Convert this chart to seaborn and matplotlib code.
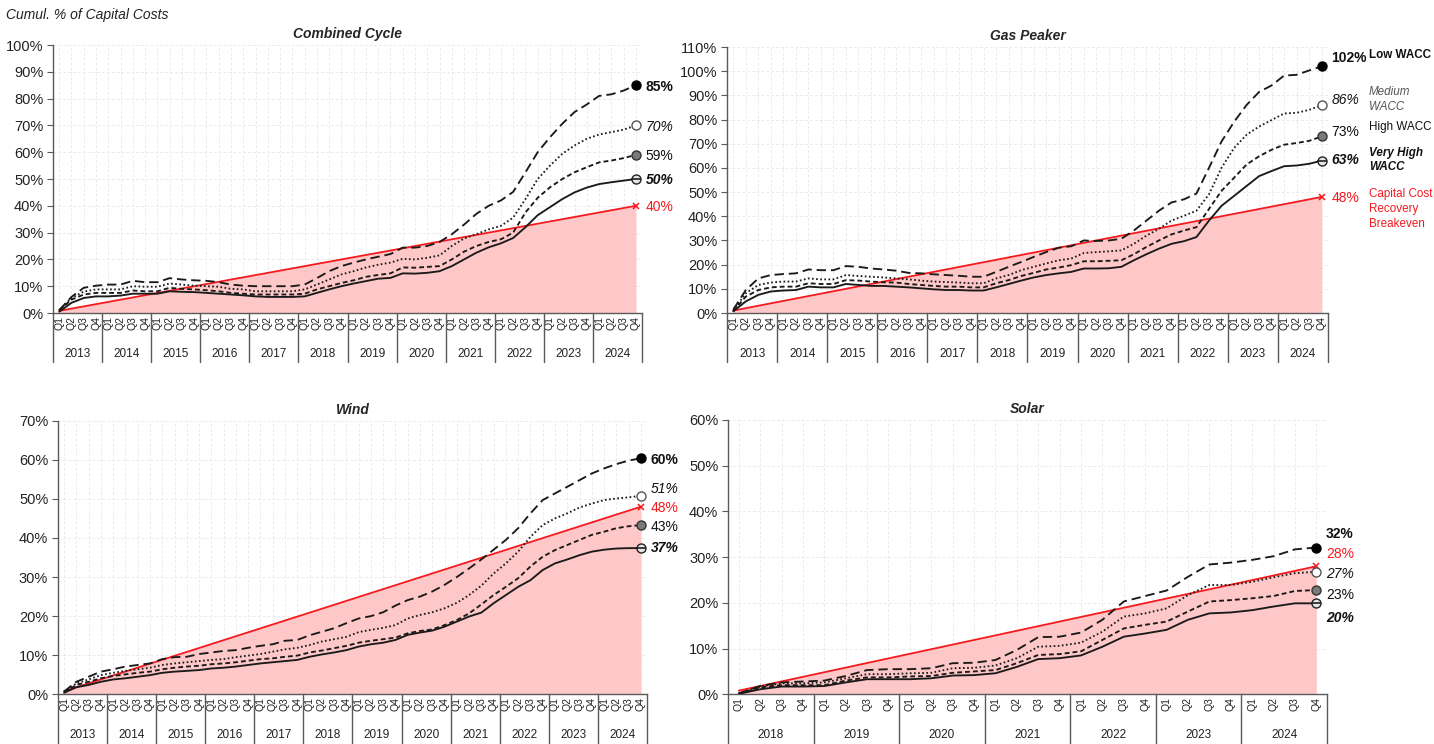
import numpy as np
import matplotlib
matplotlib.use('Agg')
import matplotlib.pyplot as plt
from matplotlib.lines import Line2D
import seaborn as sns

# --- DATA (cumulative % of capital costs recovered, by quarter) ---
YEARS_LONG = [2013, 2014, 2015, 2016, 2017, 2018, 2019, 2020, 2021, 2022, 2023, 2024]
YEARS_SOLAR = [2018, 2019, 2020, 2021, 2022, 2023, 2024]
QUARTERS = ["Q1", "Q2", "Q3", "Q4"]

CC_LOW = [1.0, 6.0, 9.4, 10.2, 10.6, 10.6, 12.0, 11.5, 11.5, 13.0, 12.5, 12.2,
          12.0, 11.5, 10.6, 10.2, 10.0, 10.0, 10.0, 10.0, 10.6, 13.0, 15.6, 17.5,
          18.8, 20.0, 21.0, 22.0, 24.4, 24.4, 25.0, 26.5, 29.4, 33.0, 37.0, 40.0,
          42.0, 45.2, 52.5, 60.0, 65.6, 70.6, 75.0, 77.8, 81.0, 81.6, 83.0, 85.0]
CC_MED = [1.0, 5.6, 8.0, 8.8, 8.8, 8.8, 10.0, 9.8, 9.8, 11.0, 10.6, 10.2,
          10.0, 9.8, 9.0, 8.8, 8.1, 8.1, 8.1, 8.1, 8.8, 10.6, 12.5, 14.4,
          15.6, 17.0, 18.0, 18.8, 20.2, 20.0, 20.6, 21.5, 25.0, 27.8, 29.4, 31.2,
          32.5, 35.6, 42.5, 50.0, 55.0, 59.4, 62.5, 65.0, 66.6, 67.5, 68.4, 70.0]
CC_HIGH = [1.0, 5.0, 6.9, 7.5, 7.5, 7.5, 8.4, 8.1, 8.1, 9.4, 9.0, 8.8,
           8.5, 8.1, 7.5, 7.2, 6.9, 6.9, 6.9, 6.9, 7.2, 8.8, 10.0, 11.2,
           12.2, 13.5, 14.2, 14.8, 17.0, 16.9, 17.2, 17.5, 20.0, 22.9, 25.0, 26.5,
           27.5, 30.0, 37.5, 43.0, 46.9, 50.0, 52.5, 54.4, 56.2, 56.9, 57.8, 59.0]
CC_VHIGH = [0.5, 3.8, 5.6, 6.2, 6.2, 6.5, 7.2, 7.2, 7.2, 8.1, 7.9, 7.8,
            7.5, 7.2, 6.9, 6.6, 6.2, 6.0, 6.0, 6.0, 6.2, 7.5, 8.8, 10.0,
            11.0, 11.9, 12.8, 13.1, 14.8, 14.7, 15.0, 15.6, 17.5, 20.0, 22.5, 24.5,
            26.0, 28.0, 32.0, 36.5, 39.5, 42.5, 45.0, 46.8, 48.1, 48.8, 49.4, 50.0]
CC_BREAKEVEN = [0.8, 40.0]   # straight line, first and last quarter

GP_LOW = [1.4, 9.5, 14.3, 15.7, 16.1, 16.4, 18.0, 17.7, 17.7, 19.4, 19.1, 18.4,
          18.0, 17.5, 16.6, 16.4, 16.0, 15.7, 15.4, 15.0, 15.0, 17.0, 19.1, 21.1,
          23.2, 25.2, 27.0, 27.6, 30.0, 29.8, 30.0, 30.7, 34.1, 38.2, 42.3, 45.7,
          47.0, 49.4, 60.0, 70.9, 79.0, 86.0, 91.4, 94.1, 98.2, 98.5, 100.3, 102.0]
GP_MED = [1.0, 8.2, 11.6, 12.6, 13.0, 13.0, 14.3, 13.9, 13.9, 15.7, 15.3, 15.0,
          14.7, 14.3, 13.9, 13.4, 13.0, 12.8, 12.6, 12.3, 12.3, 14.3, 15.7, 17.7,
          19.1, 20.5, 21.8, 22.5, 24.8, 25.2, 25.5, 25.9, 28.6, 32.0, 34.8, 38.2,
          40.2, 42.3, 49.1, 60.0, 68.2, 73.7, 77.1, 79.8, 82.5, 82.8, 84.0, 86.0]
GP_HIGH = [0.7, 6.8, 9.5, 10.6, 10.9, 10.9, 12.3, 12.0, 12.0, 13.6, 13.4, 13.0,
           12.7, 12.6, 12.0, 11.6, 11.2, 10.9, 10.9, 10.6, 10.6, 12.3, 13.6, 15.3,
           16.6, 18.0, 18.8, 19.8, 21.4, 21.4, 21.6, 21.8, 24.3, 27.3, 30.0, 32.5,
           34.1, 35.5, 43.0, 50.5, 55.9, 61.4, 64.8, 67.5, 69.6, 70.3, 71.2, 73.0]
GP_VHIGH = [0.7, 4.8, 7.5, 8.9, 9.3, 9.5, 10.9, 10.6, 10.6, 12.0, 11.6, 11.2,
            11.2, 10.9, 10.6, 10.2, 9.8, 9.5, 9.5, 9.3, 9.3, 10.6, 12.0, 13.4,
            14.7, 15.7, 16.4, 17.0, 18.4, 18.4, 18.5, 19.1, 21.8, 24.3, 26.6, 28.6,
            29.7, 31.4, 38.2, 44.3, 48.4, 52.5, 56.6, 58.7, 60.7, 61.0, 61.7, 63.0]
GP_BREAKEVEN = [1.0, 48.0]

WIND_LOW = [0.7, 3.2, 4.5, 5.8, 6.4, 7.1, 7.5, 7.9, 9.0, 9.5, 9.6, 10.3,
            10.7, 11.1, 11.3, 11.9, 12.4, 12.8, 13.7, 13.9, 15.1, 16.0, 16.9, 18.2,
            19.4, 20.0, 21.0, 22.7, 24.1, 25.0, 26.3, 28.0, 30.0, 32.2, 34.5, 37.0,
            39.5, 42.5, 46.3, 49.7, 51.4, 53.1, 54.8, 56.5, 57.8, 58.9, 59.8, 60.4]
WIND_MED = [0.5, 2.8, 3.8, 4.9, 5.5, 6.0, 6.4, 6.8, 7.5, 7.9, 8.2, 8.5,
            8.8, 9.0, 9.5, 9.9, 10.3, 10.9, 11.5, 11.9, 12.6, 13.5, 14.1, 14.7,
            15.9, 16.5, 17.0, 17.7, 19.4, 20.3, 21.0, 22.0, 23.4, 25.4, 27.8, 30.9,
            33.5, 36.5, 40.3, 43.3, 45.0, 46.3, 47.8, 48.8, 49.7, 50.1, 50.4, 50.8]
WIND_HIGH = [0.4, 2.4, 3.2, 4.1, 4.7, 5.1, 5.5, 5.8, 6.4, 6.8, 7.1, 7.3,
             7.7, 7.9, 8.2, 8.6, 9.0, 9.2, 9.6, 9.9, 10.7, 11.2, 11.8, 12.4,
             13.2, 13.7, 14.1, 14.5, 15.6, 16.2, 16.6, 17.7, 19.0, 20.7, 23.0, 25.4,
             27.5, 29.7, 32.7, 35.2, 36.9, 38.2, 39.5, 40.8, 41.6, 42.5, 43.0, 43.3]
WIND_VHIGH = [0.4, 1.8, 2.4, 3.2, 3.8, 4.1, 4.5, 4.9, 5.5, 5.8, 6.0, 6.2,
              6.6, 6.8, 7.1, 7.5, 7.9, 8.2, 8.5, 8.8, 9.6, 10.2, 10.7, 11.3,
              12.2, 12.8, 13.2, 13.9, 15.2, 15.8, 16.3, 17.3, 18.6, 19.9, 20.9, 23.3,
              25.4, 27.5, 29.2, 31.8, 33.5, 34.5, 35.6, 36.5, 37.0, 37.3, 37.4, 37.4]
WIND_BREAKEVEN = [0.8, 48.0]

SOLAR_LOW = [0.2, 1.8, 2.6, 2.8, 3.0, 4.0, 5.3, 5.5, 5.5, 5.7, 6.8, 6.9,
             7.5, 9.7, 12.5, 12.6, 13.5, 16.3, 20.3, 21.5, 22.7, 25.7, 28.4, 28.8,
             29.4, 30.2, 31.7, 32.1]
SOLAR_MED = [0.2, 1.7, 2.4, 2.4, 2.6, 3.5, 4.4, 4.4, 4.6, 4.7, 5.7, 5.8,
             6.3, 7.9, 10.4, 10.6, 11.3, 13.7, 17.0, 17.7, 18.8, 21.7, 23.9, 23.9,
             24.6, 25.6, 26.5, 26.8]
SOLAR_HIGH = [0.1, 1.5, 2.0, 2.0, 2.0, 3.0, 3.7, 3.7, 3.9, 4.0, 4.7, 5.0,
              5.3, 6.8, 8.6, 8.8, 9.4, 11.9, 14.4, 15.2, 15.9, 18.1, 20.3, 20.6,
              21.0, 21.5, 22.6, 22.8]
SOLAR_VHIGH = [0.1, 1.1, 1.7, 1.7, 1.8, 2.6, 3.3, 3.3, 3.3, 3.5, 4.1, 4.2,
               4.6, 6.0, 7.7, 7.9, 8.5, 10.4, 12.6, 13.3, 14.1, 16.3, 17.7, 17.9,
               18.4, 19.2, 19.9, 19.9]
SOLAR_BREAKEVEN = [0.8, 28.0]

# --- LAYOUT / STYLE ---
FONT = ['Liberation Sans', 'DejaVu Sans']
RED = "#f5191e"
PINK = "#ffc8c8"
AXIS_GREY = "#5a5a5a"

SERIES = ["low", "med", "high", "vhigh"]
LINE_STYLE = {
    "low": (0, (5.0, 2.6)),
    "med": (0, (0.9, 1.3)),
    "high": (0, (2.6, 1.6)),
    "vhigh": "-",
}
MARKER = {  # face, edge
    "low": ("black", "black"),
    "med": ("white", "#555555"),
    "high": ("#7a7a7a", "#333333"),
    "vhigh": ("#e6e6e6", "#222222"),
}
LABEL_FONT = {  # weight, style
    "low": ("bold", "normal"),
    "med": ("normal", "italic"),
    "high": ("normal", "normal"),
    "vhigh": ("bold", "italic"),
}

# axes rectangles in figure fraction and end-label heights (data units)
PANELS = [
    dict(title="Combined Cycle", years=YEARS_LONG, ymax=100,
         series=[CC_LOW, CC_MED, CC_HIGH, CC_VHIGH], breakeven=CC_BREAKEVEN,
         rect=[0.037, 0.5793, 0.4107, 0.3602], label_y=[84.5, 69.5, 58.5, 49.6, 39.6]),
    dict(title="Gas Peaker", years=YEARS_LONG, ymax=110,
         series=[GP_LOW, GP_MED, GP_HIGH, GP_VHIGH], breakeven=GP_BREAKEVEN,
         rect=[0.507, 0.5793, 0.419, 0.3575], label_y=[105.3, 88.0, 74.9, 63.3, 47.6]),
    dict(title="Wind", years=YEARS_LONG, ymax=70,
         series=[WIND_LOW, WIND_MED, WIND_HIGH, WIND_VHIGH], breakeven=WIND_BREAKEVEN,
         rect=[0.0404, 0.0668, 0.4108, 0.3677], label_y=[59.9, 52.5, 42.7, 37.4, 47.6]),
    dict(title="Solar", years=YEARS_SOLAR, ymax=60,
         series=[SOLAR_LOW, SOLAR_MED, SOLAR_HIGH, SOLAR_VHIGH], breakeven=SOLAR_BREAKEVEN,
         rect=[0.5077, 0.0668, 0.4177, 0.3687], label_y=[35.1, 26.3, 21.8, 16.7, 30.7]),
]


def draw_panel(fig, p):
    ax = fig.add_axes(p["rect"])
    n = len(p["years"]) * 4
    x = np.arange(n)

    # breakeven area + line
    be = p["breakeven"]
    ax.fill_between([0, n - 1], be, 0, color=PINK, lw=0, zorder=1)
    sns.lineplot(x=[0, n - 1], y=be, ax=ax, color=RED, lw=1.3, zorder=4)
    ax.plot([n - 1], [be[1]], marker="x", ms=5, mew=1.1, color=RED, zorder=6, clip_on=False)

    for key, vals in zip(SERIES, p["series"]):
        sns.lineplot(x=x, y=vals, ax=ax, color="#1a1a1a", lw=1.35,
                     linestyle=LINE_STYLE[key], zorder=5)
        fc, ec = MARKER[key]
        ax.plot([n - 1], [vals[-1]], marker="o", ms=6.5, mfc=fc, mec=ec, mew=1.0,
                zorder=7, clip_on=False)
        if key == "vhigh":
            ax.plot([n - 1], [vals[-1]], marker="_", ms=6.5, mec="#222222", mew=1.2,
                    zorder=8, clip_on=False)

    # end labels
    ends = [v[-1] for v in p["series"]] + [be[1]]
    for i, (val, ly) in enumerate(zip(ends, p["label_y"])):
        if i < 4:
            w, st = LABEL_FONT[SERIES[i]]
            col = "#111111"
        else:
            w, st, col = "normal", "normal", RED
        ax.annotate(f"{val:.0f}%", xy=(n - 1, ly), xytext=(7, 0), textcoords="offset points",
                    ha="left", va="center", fontsize=10, fontweight=w, fontstyle=st,
                    color=col, annotation_clip=False)

    # axes styling
    ax.set_xlim(-0.5, n - 0.5)
    ax.set_ylim(0, p["ymax"])
    ax.set_yticks(np.arange(0, p["ymax"] + 1, 10))
    ax.set_yticklabels([f"{v}%" for v in range(0, p["ymax"] + 1, 10)])
    ax.set_xticks(x)
    ax.set_xticklabels(QUARTERS * len(p["years"]))
    ax.tick_params(axis="x", length=0, pad=2, labelrotation=90, labelsize=7.5, colors="#222222")
    ax.tick_params(axis="y", left=True, length=4, width=0.8, color=AXIS_GREY, pad=3,
                   labelsize=10.5, labelcolor="#222222")
    ax.set_xlabel("")
    ax.set_ylabel("")
    for s in ["top", "right"]:
        ax.spines[s].set_visible(False)
    for s in ["left", "bottom"]:
        ax.spines[s].set_color(AXIS_GREY)
        ax.spines[s].set_linewidth(1.0)
    ax.grid(True, color="#ebebeb", lw=0.7, ls=(0, (3, 2)))
    ax.set_axisbelow(True)

    # year groups under the quarters
    trans = ax.get_xaxis_transform()
    for k, yr in enumerate(p["years"]):
        ax.annotate(str(yr), xy=(4 * k + 1.5, 0), xycoords=trans, xytext=(0, -29.5),
                    textcoords="offset points", ha="center", va="center",
                    fontsize=8.5, color="#222222", annotation_clip=False)
    for k in range(len(p["years"]) + 1):
        ax.add_line(Line2D([4 * k - 0.5] * 2, [0, -0.183], transform=trans, clip_on=False,
                           color=AXIS_GREY, lw=1.0))

    ax.set_title(p["title"], fontsize=10, fontweight="bold", fontstyle="italic", pad=5)
    return ax


sns.set_theme(style="white")
plt.rcParams['font.family'] = FONT

fig = plt.figure(figsize=(14.34, 7.44), dpi=100)
for p in PANELS:
    draw_panel(fig, p)

fig.text(0.004, 0.98, "Cumul. % of Capital Costs", ha="left", va="center",
         fontsize=10, fontstyle="italic", color="#222222")

# legend text beside the gas peaker panel
LEGEND = [
    ("Low WACC", 0.926, "bold", "normal", "#111111"),
    ("Medium\nWACC", 0.866, "normal", "italic", "#555555"),
    ("High WACC", 0.829, "normal", "normal", "#111111"),
    ("Very High\nWACC", 0.785, "bold", "italic", "#111111"),
    ("Capital Cost\nRecovery\nBreakeven", 0.719, "normal", "normal", RED),
]
for txt, y, w, st, col in LEGEND:
    fig.text(0.9545, y, txt, ha="left", va="center", fontsize=8.4, fontweight=w,
             fontstyle=st, color=col, linespacing=1.3)

fig.savefig("out.png", dpi=100)
